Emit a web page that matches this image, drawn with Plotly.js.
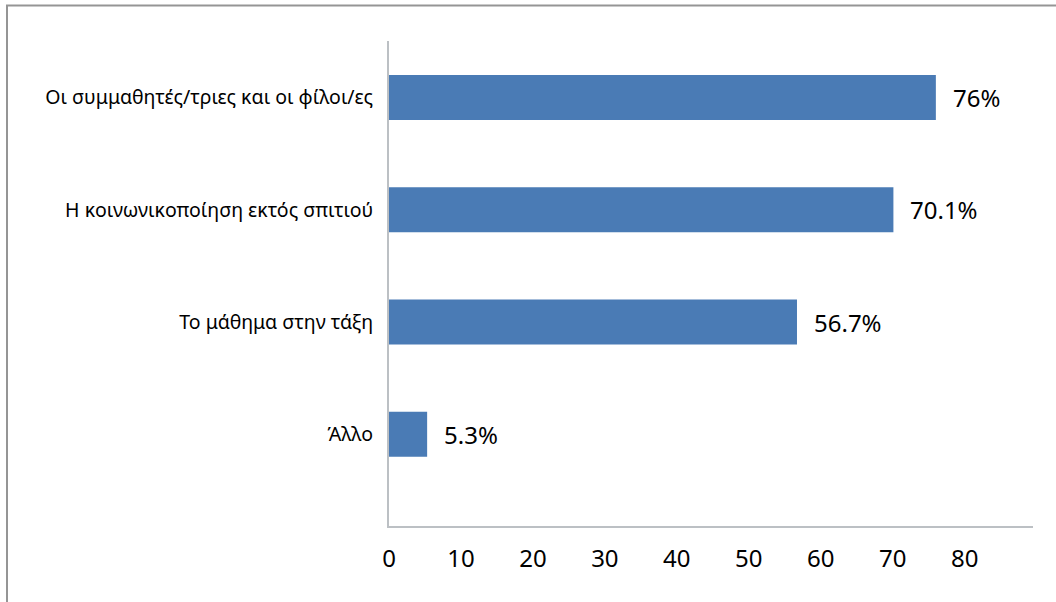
<!DOCTYPE html>
<html>
<head>
<meta charset="utf-8">
<script src="https://cdn.plot.ly/plotly-3.0.1.min.js"></script>
<style>
html,body{margin:0;padding:0;background:#fff;}
#chart{width:1056px;height:602px;}
</style>
</head>
<body>
<div id="chart"></div>
<script>
const categories = [
  "Οι συμμαθητές/τριες και οι φίλοι/ες",
  "Η κοινωνικοποίηση εκτός σπιτιού",
  "Το μάθημα στην τάξη",
  "Άλλο"
];
const values = [76, 70.1, 56.7, 5.3];
const valueLabels = ["76%", "70.1%", "56.7%", "5.3%"];
const xTicks = [0, 10, 20, 30, 40, 50, 60, 70, 80];

const FONT = "Noto Sans, Open Sans, DejaVu Sans, sans-serif";

const trace = {
  type: "bar",
  orientation: "h",
  x: values,
  y: categories,
  width: 0.4,
  marker: {color: "#4A7BB5"},
  hoverinfo: "skip"
};

const annotations = values.map((v, i) => ({
  x: v, y: categories[i], xref: "x", yref: "y",
  text: valueLabels[i], showarrow: false,
  xanchor: "left", yanchor: "middle", xshift: 15,
  font: {family: FONT, size: 24, color: "#000"}
}));

const L = 389, R = 1033, T = 41, B = 526;
const pw = R - L, ph = B - T;
const px = p => (p - L) / pw;
const py = p => (B - p) / ph;

const layout = {
  width: 1056, height: 602,
  margin: {l: L, r: 1056 - R, t: T, b: 602 - B, pad: 0},
  paper_bgcolor: "#fff", plot_bgcolor: "#fff",
  showlegend: false,
  bargap: 0.6,
  xaxis: {
    range: [0, 89.5],
    tickvals: xTicks,
    ticktext: xTicks.map(String),
    showgrid: false, zeroline: false,
    showline: true, linecolor: "#BCC0C4", linewidth: 2,
    ticks: "", ticklabelstandoff: 10,
    tickfont: {family: FONT, size: 24, color: "#000"},
    fixedrange: true
  },
  yaxis: {
    type: "category",
    categoryorder: "array", categoryarray: categories,
    range: [3.817, -0.503],
    showgrid: false, zeroline: false,
    showline: true, linecolor: "#BCC0C4", linewidth: 2,
    ticks: "", ticklabelstandoff: 10,
    tickfont: {family: FONT, size: 19.5, color: "#000"},
    fixedrange: true
  },
  annotations: annotations,
  shapes: [{
    type: "path", xref: "paper", yref: "paper",
    path: `M ${px(1070)} ${py(5.5)} L ${px(7)} ${py(5.5)} L ${px(7)} ${py(620)}`,
    line: {color: "#959595", width: 2}
  }]
};

Plotly.newPlot("chart", [trace], layout, {displayModeBar: false, staticPlot: true});
</script>
</body>
</html>
